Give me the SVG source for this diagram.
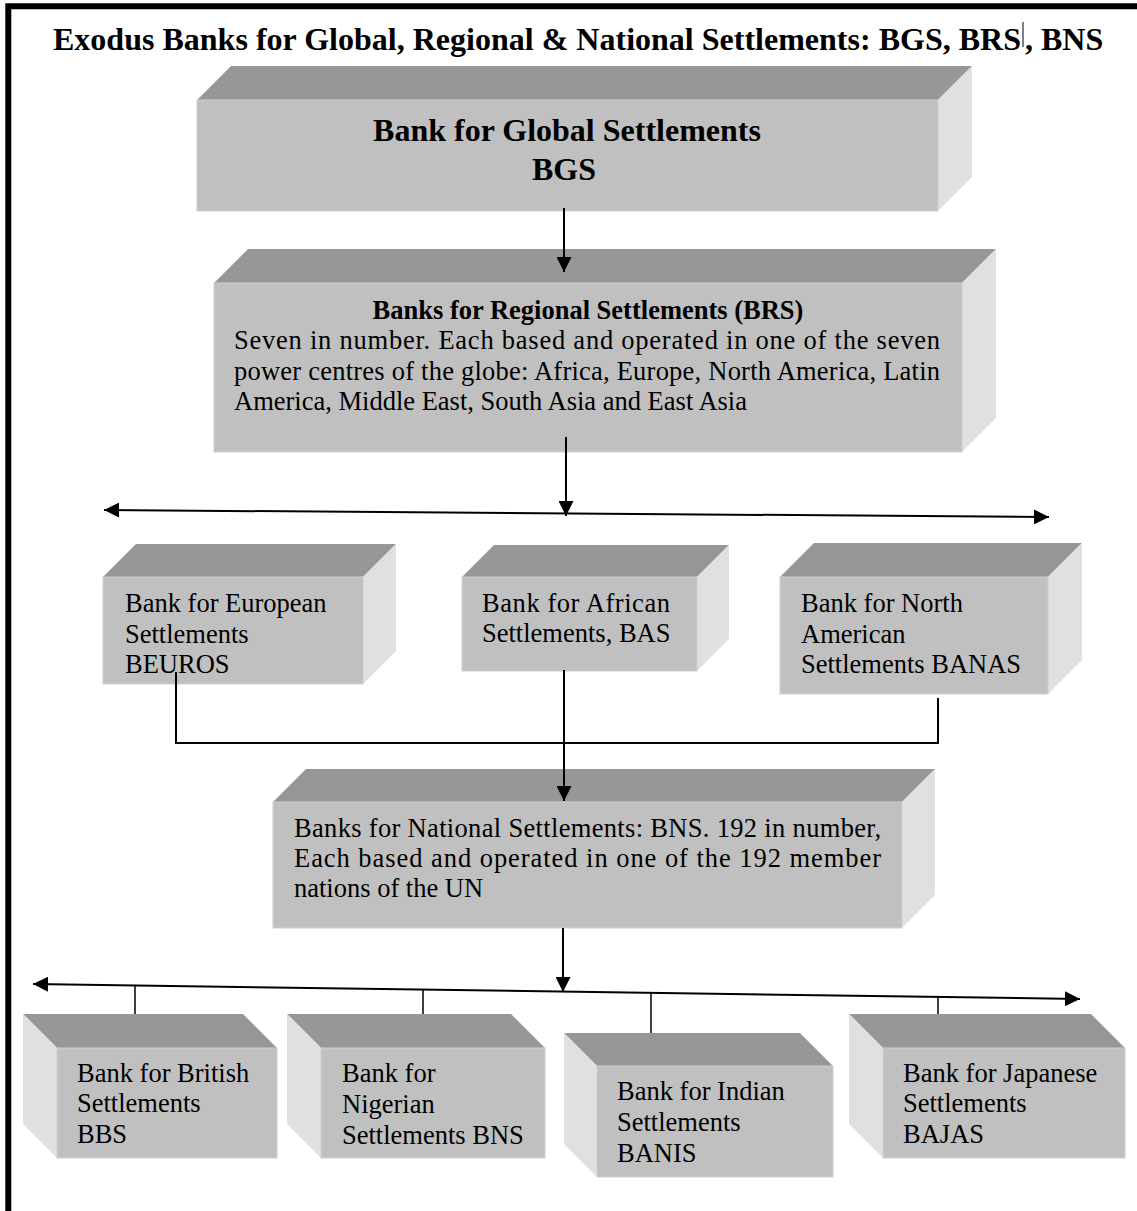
<svg xmlns="http://www.w3.org/2000/svg" width="1137" height="1211" viewBox="0 0 1137 1211">
<style>
.front{fill:#c0c0c0;stroke:#cfcfcf;stroke-width:1}
.top{fill:#979797}
.side{fill:#e0e0e0}
.t{font-family:"Liberation Serif","Times New Roman",serif;font-size:26.5px;fill:#000}
.b{font-weight:bold}
.c{stroke:#000;stroke-width:2;fill:none}
</style>
<defs>
<marker id="ah" markerUnits="userSpaceOnUse" markerWidth="15" markerHeight="15" refX="15" refY="7.5" orient="auto-start-reverse">
<path d="M0,0 L15,7.5 L0,15 z" fill="#000"/>
</marker>
</defs>
<rect width="1137" height="1211" fill="#fff"/>
<path d="M8.3,1211 V6.3 H1137" fill="none" stroke="#000" stroke-width="6"/>
<g id="title">
<text class="t b" x="53" y="50" style="font-size:32px" textLength="968" lengthAdjust="spacing">Exodus Banks for Global, Regional &amp; National Settlements: BGS, BRS</text>
<line x1="1023" y1="22" x2="1023" y2="47" stroke="#000" stroke-width="1"/>
<text class="t b" x="1025" y="50" style="font-size:32px">, BNS</text>
</g>
<g id="bgs">
<polygon class="top" points="197,100 231,66 972,66 938,100"/>
<polygon class="side" points="938,100 972,66 972,177 938,211"/>
<rect class="front" x="197" y="100" width="741" height="111"/>
<text class="t b" x="567" y="141" text-anchor="middle" style="font-size:32px">Bank for Global Settlements</text>
<text class="t b" x="564" y="180" text-anchor="middle" style="font-size:32px">BGS</text>
</g>
<g id="brs">
<polygon class="top" points="214,283 248,249 996,249 962,283"/>
<polygon class="side" points="962,283 996,249 996,418 962,452"/>
<rect class="front" x="214" y="283" width="748" height="169"/>
<text class="t b" x="588" y="319" text-anchor="middle">Banks for Regional Settlements (BRS)</text>
<text class="t" x="234" y="349" textLength="706" lengthAdjust="spacing">Seven in number. Each based and operated in one of the seven</text>
<text class="t" x="234" y="380" textLength="706" lengthAdjust="spacing">power centres of the globe: Africa, Europe, North America, Latin</text>
<text class="t" x="234" y="410">America, Middle East, South Asia and East Asia</text>
</g>
<g id="beuros">
<polygon class="top" points="103,577 136,544 396,544 363,577"/>
<polygon class="side" points="363,577 396,544 396,651 363,684"/>
<rect class="front" x="103" y="577" width="260" height="107"/>
<text class="t" x="125" y="612">Bank for European</text>
<text class="t" x="125" y="643">Settlements</text>
<text class="t" x="125" y="673">BEUROS</text>
</g>
<g id="bas">
<polygon class="top" points="462,577 494,545 729,545 697,577"/>
<polygon class="side" points="697,577 729,545 729,639 697,671"/>
<rect class="front" x="462" y="577" width="235" height="94"/>
<text class="t" x="482" y="612" textLength="188" lengthAdjust="spacing">Bank for African</text>
<text class="t" x="482" y="642">Settlements, BAS</text>
</g>
<g id="banas">
<polygon class="top" points="780,577 814,543 1082,543 1048,577"/>
<polygon class="side" points="1048,577 1082,543 1082,660 1048,694"/>
<rect class="front" x="780" y="577" width="268" height="117"/>
<text class="t" x="801" y="612">Bank for North</text>
<text class="t" x="801" y="643">American</text>
<text class="t" x="801" y="673">Settlements BANAS</text>
</g>
<g id="bns">
<polygon class="top" points="273,802 306,769 935,769 902,802"/>
<polygon class="side" points="902,802 935,769 935,895 902,928"/>
<rect class="front" x="273" y="802" width="629" height="126"/>
<text class="t" x="294" y="837" textLength="587" lengthAdjust="spacing">Banks for National Settlements: BNS. 192 in number,</text>
<text class="t" x="294" y="867" textLength="587" lengthAdjust="spacing">Each based and operated in one of the 192 member</text>
<text class="t" x="294" y="897">nations of the UN</text>
</g>
<g id="bbs">
<polygon class="top" points="57,1048 23,1014 243,1014 277,1048"/>
<polygon class="side" points="57,1048 23,1014 23,1124 57,1158"/>
<rect class="front" x="57" y="1048" width="220" height="110"/>
<text class="t" x="77" y="1082">Bank for British</text>
<text class="t" x="77" y="1112">Settlements</text>
<text class="t" x="77" y="1143">BBS</text>
</g>
<g id="bnigs">
<polygon class="top" points="321,1048 287,1014 511,1014 545,1048"/>
<polygon class="side" points="321,1048 287,1014 287,1124 321,1158"/>
<rect class="front" x="321" y="1048" width="224" height="110"/>
<text class="t" x="342" y="1082">Bank for</text>
<text class="t" x="342" y="1113">Nigerian</text>
<text class="t" x="342" y="1144">Settlements BNS</text>
</g>
<g id="banis">
<polygon class="top" points="597,1066 564,1033 800,1033 833,1066"/>
<polygon class="side" points="597,1066 564,1033 564,1144 597,1177"/>
<rect class="front" x="597" y="1066" width="236" height="111"/>
<text class="t" x="617" y="1100">Bank for Indian</text>
<text class="t" x="617" y="1131">Settlements</text>
<text class="t" x="617" y="1162">BANIS</text>
</g>
<g id="bajas">
<polygon class="top" points="883,1048 849,1014 1091,1014 1125,1048"/>
<polygon class="side" points="883,1048 849,1014 849,1124 883,1158"/>
<rect class="front" x="883" y="1048" width="242" height="110"/>
<text class="t" x="903" y="1082">Bank for Japanese</text>
<text class="t" x="903" y="1112">Settlements</text>
<text class="t" x="903" y="1143">BAJAS</text>
</g>
<g id="connectors">
<line class="c" x1="564" y1="208" x2="564" y2="272" marker-end="url(#ah)"/>
<line class="c" x1="566" y1="437" x2="566" y2="516" marker-end="url(#ah)"/>
<line class="c" x1="104" y1="510" x2="1049" y2="517" marker-start="url(#ah)" marker-end="url(#ah)"/>
<polyline class="c" points="176,672 176,743 938,743 938,698"/>
<line class="c" x1="564" y1="670" x2="564" y2="801" marker-end="url(#ah)"/>
<line class="c" x1="563" y1="928" x2="563" y2="992" marker-end="url(#ah)"/>
<line class="c" x1="33" y1="984" x2="1080" y2="999" marker-start="url(#ah)" marker-end="url(#ah)"/>
<line class="c" x1="135" y1="985" x2="135" y2="1014" style="stroke-width:1.5"/>
<line class="c" x1="423" y1="989" x2="423" y2="1014" style="stroke-width:1.5"/>
<line class="c" x1="651" y1="993" x2="651" y2="1033" style="stroke-width:1.5"/>
<line class="c" x1="938" y1="997" x2="938" y2="1014" style="stroke-width:1.5"/>
</g>
</svg>
